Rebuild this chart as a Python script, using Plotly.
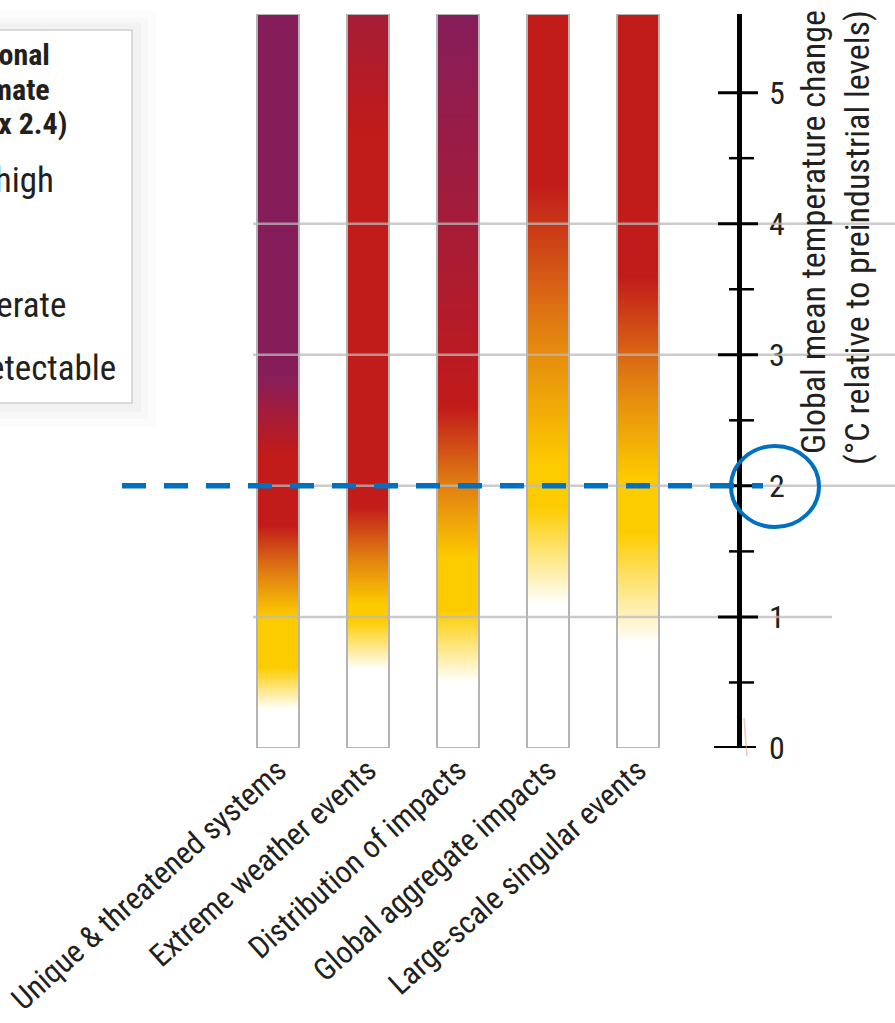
import plotly.graph_objects as go

# Reasons for concern: risk level (0 undetectable, 1 moderate, 2 high, 3 very high)
# given at a few global-mean warming levels for each category.
categories = [
    "Unique & threatened systems",
    "Extreme weather events",
    "Distribution of impacts",
    "Global aggregate impacts",
    "Large-scale singular events",
]
unique_temps = [0.0, 0.3, 0.62, 1.0, 1.7, 2.25, 2.85, 5.6]
unique_risk = [0, 0, 1, 1, 2, 2, 3, 3]
extreme_temps = [0.0, 0.6, 0.98, 1.1, 1.85, 4.7, 5.6]
extreme_risk = [0, 0, 1, 1, 2, 2, 2.45]
distribution_temps = [0.0, 0.5, 1.05, 1.45, 2.6, 5.6]
distribution_risk = [0, 0, 1, 1, 2, 3]
aggregate_temps = [0.0, 1.1, 1.85, 2.15, 4.3, 5.6]
aggregate_risk = [0, 0, 1, 1, 2, 2]
singular_temps = [0.0, 0.8, 1.65, 2.05, 3.6, 5.6]
singular_risk = [0, 0, 1, 1, 2, 2]

ember_top = 5.6
major_ticks = [0, 1, 2, 3, 4, 5]
minor_ticks = [0.5, 1.5, 2.5, 3.5, 4.5]
gridline_levels = [1, 2, 3, 4]
target_level = 2

legend_title = ["Level of additional", "risk due to climate", "change (see Box 2.4)"]
legend_items = ["Very high", "Moderate", "Undetectable"]

embers = [
    (unique_temps, unique_risk),
    (extreme_temps, extreme_risk),
    (distribution_temps, distribution_risk),
    (aggregate_temps, aggregate_risk),
    (singular_temps, singular_risk),
]

# ---- layout geometry (pixels) ----
W_FIG, H_FIG = 895, 1023
M_L, M_R, M_T, M_B = 240, 155, 14, 275
PW = W_FIG - M_L - M_R
PH = H_FIG - M_T - M_B
BOTTOM = H_FIG - M_B


def px(x):
    return (x - M_L) / PW


def py(y):
    return (BOTTOM - y) / PH


FONT = "Liberation Sans Narrow, Arial Narrow, Roboto Condensed, Roboto, sans-serif"
TEXT = "#231f20"
bar_w = 42 / 90

ember_scale = [
    [0.0, "#ffffff"],
    [1 / 3, "#fdcc00"],
    [0.5, "#e07c12"],
    [2 / 3, "#c11b1a"],
    [1.0, "#861d5b"],
]

fig = go.Figure()

for i, (temps, risk) in enumerate(embers):
    fig.add_trace(go.Heatmap(
        x=[i - bar_w / 2, i, i + bar_w / 2],
        y=temps,
        z=[[r, r] for r in risk],
        zmin=0, zmax=3,
        colorscale=ember_scale,
        zsmooth="best",
        showscale=False,
        hoverinfo="skip",
    ))

# outlines of the embers
fig.add_trace(go.Bar(
    x=list(range(len(categories))),
    y=[ember_top] * len(categories),
    width=bar_w,
    marker=dict(color="rgba(0,0,0,0)", line=dict(color="#b4b4b4", width=2)),
    hoverinfo="skip",
    showlegend=False,
))

shapes = []

# legend panel with soft shadow
for grow, alpha in [(24, 0.012), (16, 0.016), (9, 0.022)]:
    shapes.append(dict(type="rect", xref="paper", yref="paper",
                       x0=px(-20), x1=px(132 + grow), y0=py(403 + grow), y1=py(30 - grow * 0.8),
                       fillcolor=f"rgba(0,0,0,{alpha})", line=dict(width=0), layer="below"))
shapes.append(dict(type="rect", xref="paper", yref="paper",
                   x0=px(-20), x1=px(132), y0=py(403), y1=py(30),
                   fillcolor="white", line=dict(color="#cfcfcf", width=1.5), layer="below"))

# horizontal reference lines
for lvl in gridline_levels:
    x_end = 832 if lvl == 1 else 900
    shapes.append(dict(type="line", xref="paper", yref="y",
                       x0=px(253), x1=px(x_end), y0=lvl, y1=lvl,
                       line=dict(color="rgba(185,185,185,0.75)", width=2.5)))

# vertical temperature axis with crossing ticks
AX = 739.5
shapes.append(dict(type="line", xref="paper", yref="y", x0=px(AX), x1=px(AX),
                   y0=0, y1=ember_top, line=dict(color="black", width=5)))
for t in major_ticks:
    if t == 0:
        shapes.append(dict(type="line", xref="paper", yref="y", x0=px(714), x1=px(756),
                           y0=t, y1=t, line=dict(color="black", width=4)))
    else:
        shapes.append(dict(type="line", xref="paper", yref="y", x0=px(718), x1=px(758),
                           y0=t, y1=t, line=dict(color="black", width=3)))
for t in minor_ticks:
    shapes.append(dict(type="line", xref="paper", yref="y", x0=px(729), x1=px(754),
                       y0=t, y1=t, line=dict(color="black", width=2.5)))

# small reddish sliver beside the zero tick
shapes.append(dict(type="line", xref="paper", yref="paper", x0=px(744), x1=px(747),
                   y0=py(718), y1=py(756), line=dict(color="rgba(235,150,125,0.55)", width=1.5)))

# 2 degree marker: dashed line and circle
shapes.append(dict(type="line", xref="paper", yref="y", x0=px(122), x1=px(763),
                   y0=target_level, y1=target_level,
                   line=dict(color="#0070c0", width=5.5, dash="24px,18px")))
shapes.append(dict(type="circle", xref="paper", yref="paper",
                   x0=px(731), x1=px(819), y0=py(527), y1=py(446),
                   line=dict(color="#0070c0", width=4)))

annotations = []
# legend text (panel extends past the left edge)
title_right = [52, 52, 69]
title_base = [65, 100, 133]
for txt, xr, yb in zip(legend_title, title_right, title_base):
    annotations.append(dict(text=f"<b>{txt}</b>", xref="paper", yref="paper",
                            x=px(xr), y=py(yb - 10), xanchor="right", yanchor="middle",
                            showarrow=False, font=dict(family=FONT, size=30, color=TEXT)))
item_right = [56, 68, 118]
item_base = [193, 317, 380]
for txt, xr, yb in zip(legend_items, item_right, item_base):
    annotations.append(dict(text=txt, xref="paper", yref="paper",
                            x=px(xr), y=py(yb - 12), xanchor="right", yanchor="middle",
                            showarrow=False, font=dict(family=FONT, size=35, color=TEXT)))

# axis title
annotations.append(dict(
    text="Global mean temperature change<br>(°C relative to preindustrial levels)",
    xref="paper", yref="paper", x=px(835), y=py(238),
    xanchor="center", yanchor="middle", textangle=-90, align="right",
    showarrow=False, font=dict(family=FONT, size=34, color=TEXT)))

fig.update_layout(
    width=W_FIG, height=H_FIG,
    margin=dict(l=M_L, r=M_R, t=M_T, b=M_B, pad=0, autoexpand=False),
    paper_bgcolor="white", plot_bgcolor="white",
    showlegend=False,
    shapes=shapes,
    annotations=annotations,
    xaxis=dict(
        range=[-38 / 90, 4 + 102 / 90],
        tickvals=list(range(len(categories))),
        ticktext=categories,
        tickangle=-42,
        ticks="", showgrid=False, zeroline=False, showline=False,
        automargin=False, ticklabeloverflow="allow",
        ticklabelstandoff=-3,
        tickfont=dict(family=FONT, size=31, color=TEXT),
        fixedrange=True,
    ),
    yaxis=dict(
        range=[0, ember_top],
        side="right",
        tickvals=major_ticks,
        ticks="", showgrid=False, zeroline=False, showline=False,
        automargin=False,
        ticklabelstandoff=28,
        tickfont=dict(family=FONT, size=32, color=TEXT),
        fixedrange=True,
    ),
)

fig.write_html("out.html")
